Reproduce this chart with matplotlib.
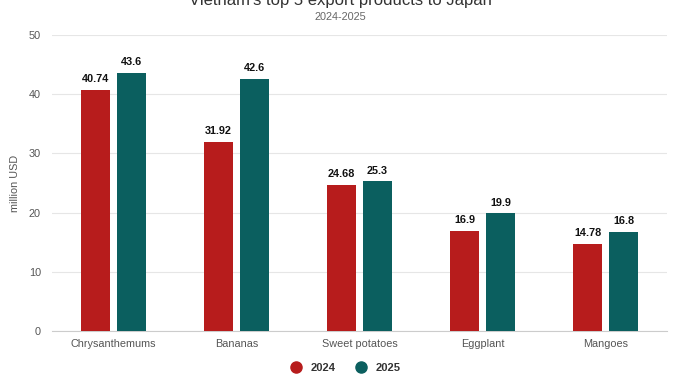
import matplotlib.pyplot as plt
import numpy as np

categories = ["Chrysanthemums", "Bananas", "Sweet potatoes", "Eggplant", "Mangoes"]
values_2024 = [40.74, 31.92, 24.68, 16.9, 14.78]
values_2025 = [43.6, 42.6, 25.3, 19.9, 16.8]
labels_2024 = ["40.74", "31.92", "24.68", "16.9", "14.78"]
labels_2025 = ["43.6", "42.6", "25.3", "19.9", "16.8"]

plt.rcParams['font.family'] = ['Liberation Sans', 'DejaVu Sans']

red = "#b71c1c"
teal = "#0b5f5f"

fig = plt.figure(figsize=(6.8, 3.75), dpi=100)
ax = fig.add_axes([52/680, 1 - 331/375, 615/680, 296/375])

x = np.arange(len(categories))
w = 0.236
b1 = ax.bar(x - 0.146, values_2024, w, color=red, zorder=3)
b2 = ax.bar(x + 0.146, values_2025, w, color=teal, zorder=3)

for bars, labs in [(b1, labels_2024), (b2, labels_2025)]:
    for b, lab in zip(bars, labs):
        ax.annotate(lab, (b.get_x() + b.get_width()/2, b.get_height()),
                    xytext=(0, 4), textcoords="offset points", ha="center", va="bottom",
                    fontsize=7.8, fontweight="bold", color="#111111")

ax.set_xlim(-0.5, 4.5)
ax.set_ylim(0, 50)
ax.set_yticks([0, 10, 20, 30, 40, 50])
ax.set_xticks(x)
ax.set_xticklabels(categories)
ax.tick_params(axis="both", length=0, labelsize=7.8, labelcolor="#555555")
ax.tick_params(axis="y", pad=8)
ax.tick_params(axis="x", pad=6)
ax.grid(axis="y", color="#e6e6e6", linewidth=0.8, zorder=0)
for s in ["top", "right", "left"]:
    ax.spines[s].set_visible(False)
ax.spines["bottom"].set_color("#cccccc")
ax.set_ylabel("million USD", fontsize=7.8, color="#555555", labelpad=6)

fig.text(0.5, 1.0 - 1/375, "Vietnam's top 5 export products to Japan", ha="center", va="center",
         fontsize=12, color="#333333")
fig.text(0.5, 1 - 17/375, "2024-2025", ha="center", va="center", fontsize=7.8, color="#666666")

h1 = plt.Line2D([], [], marker="o", linestyle="", color=red, markersize=8)
h2 = plt.Line2D([], [], marker="o", linestyle="", color=teal, markersize=8)
fig.legend([h1, h2], ["2024", "2025"], loc="center", bbox_to_anchor=(343/680, 1 - 368/375),
           ncol=2, frameon=False, prop={"size": 8, "weight": "bold"}, handletextpad=0.3,
           columnspacing=1.3, labelcolor="#333333")

fig.savefig("out.png", dpi=100)
